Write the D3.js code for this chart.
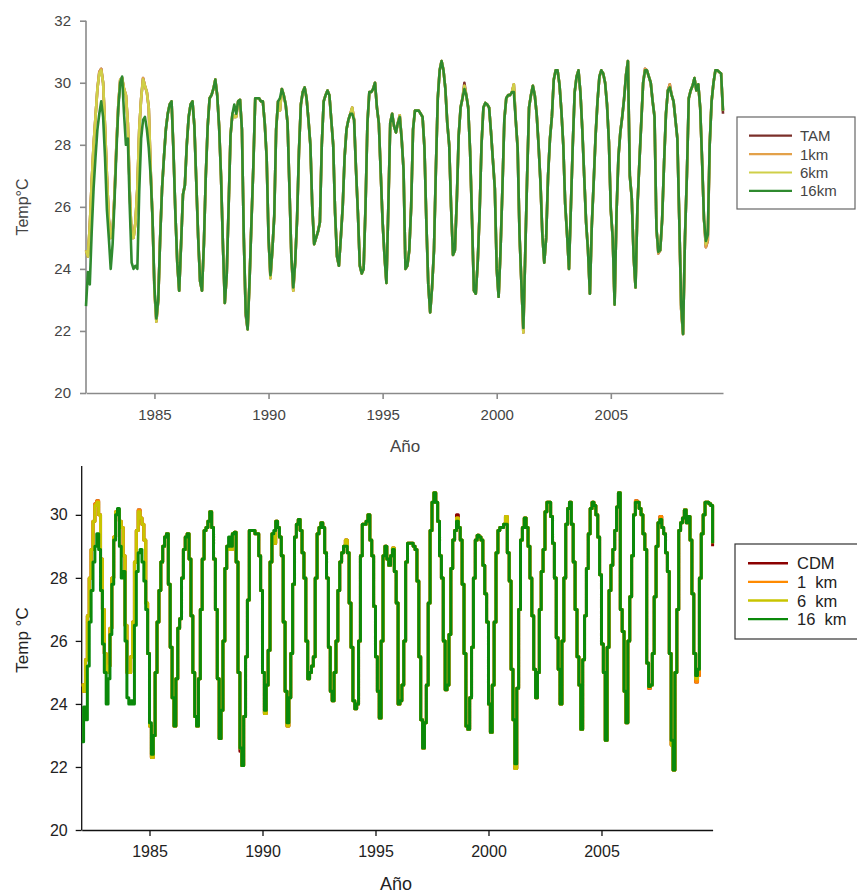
<!DOCTYPE html>
<html>
<head>
<meta charset="utf-8">
<script src="https://cdn.jsdelivr.net/npm/d3@7"></script>
<style>
  body { margin: 0; background: #fff; }
  svg { display: block; font-family: "Liberation Sans", Arial, sans-serif; }
</style>
</head>
<body>
<svg id="chart" width="857" height="894"></svg>
<script>
// monthly series, Jan 1982 .. Dec 2009 (one row per year)
const firstYear = 1982;
const yearTicks = [1985, 1990, 1995, 2000, 2005];
const topYTicks = [20, 22, 24, 26, 28, 30, 32];
const bottomYTicks = [20, 22, 24, 26, 28, 30];
const topNames = ["TAM", "1km", "6km", "16km"];
const bottomNames = ["CDM", "1  km", "6  km", "16  km"];

const km16 = [
  22.8, 23.9, 23.5, 25.2, 26.6, 27.6, 28.5, 29.0, 29.4, 28.9, 27.6, 25.9, // 1982
  25.0, 24.0, 24.8, 26.2, 27.8, 29.2, 30.0, 30.2, 29.0, 28.0, 28.2, 26.0, // 1983
  24.2, 24.0, 24.1, 24.0, 26.5, 28.2, 28.8, 28.9, 28.5, 27.9, 27.0, 25.6, // 1984
  23.4, 22.4, 23.0, 25.0, 26.6, 27.6, 28.5, 29.0, 29.3, 29.4, 27.8, 25.8, // 1985
  24.2, 23.3, 24.8, 26.4, 26.7, 28.0, 28.9, 29.3, 29.4, 28.6, 26.8, 25.0, // 1986
  23.6, 23.3, 24.8, 27.0, 28.6, 29.5, 29.6, 29.8, 30.1, 29.6, 28.6, 27.0, // 1987
  24.8, 22.9, 23.8, 26.0, 28.3, 29.0, 29.3, 29.0, 29.4, 29.45, 28.5, 25.0, // 1988
  22.6, 22.05, 23.6, 25.5, 27.3, 29.5, 29.5, 29.5, 29.4, 29.4, 28.7, 27.6, // 1989
  25.0, 23.8, 24.6, 25.7, 28.5, 29.4, 29.5, 29.8, 29.6, 29.3, 28.7, 26.6, // 1990
  24.4, 23.4, 24.2, 25.6, 27.8, 29.3, 29.7, 29.85, 29.5, 28.8, 28.0, 26.0, // 1991
  24.8, 25.0, 25.2, 25.5, 28.0, 29.4, 29.6, 29.75, 29.6, 28.8, 28.0, 25.8, // 1992
  24.4, 24.1, 25.0, 26.0, 27.6, 28.5, 28.8, 29.0, 29.0, 28.8, 27.2, 25.8, // 1993
  24.1, 23.85, 24.0, 26.0, 28.7, 29.7, 29.7, 29.8, 30.0, 29.2, 28.7, 27.1, // 1994
  25.5, 24.4, 23.55, 26.0, 28.7, 29.0, 28.6, 28.4, 28.7, 28.9, 28.2, 27.2, // 1995
  24.0, 24.1, 24.6, 26.0, 28.5, 29.1, 29.1, 29.1, 29.0, 28.9, 27.9, 25.5, // 1996
  23.5, 22.6, 23.4, 24.6, 27.2, 29.5, 30.4, 30.7, 30.4, 29.8, 28.7, 28.0, // 1997
  26.0, 24.45, 24.6, 26.2, 28.3, 29.2, 29.5, 29.8, 29.6, 29.2, 27.8, 25.6, // 1998
  23.3, 23.2, 24.2, 25.8, 28.0, 29.2, 29.35, 29.3, 29.2, 28.4, 27.5, 26.6, // 1999
  24.0, 23.1, 24.6, 26.6, 28.8, 29.5, 29.6, 29.6, 29.7, 29.7, 28.8, 27.9, // 2000
  25.1, 23.5, 22.1, 24.5, 27.0, 29.2, 29.6, 29.9, 29.6, 29.0, 28.0, 26.8, // 2001
  25.1, 24.2, 25.0, 27.0, 28.2, 28.9, 30.1, 30.4, 30.4, 29.95, 29.1, 28.0, // 2002
  26.1, 25.1, 24.0, 26.0, 28.0, 29.7, 30.2, 30.4, 29.7, 28.5, 27.0, 25.5, // 2003
  24.6, 23.2, 25.4, 26.8, 28.3, 29.4, 30.2, 30.4, 30.3, 30.0, 29.3, 28.1, // 2004
  25.9, 25.0, 22.85, 25.8, 27.6, 28.4, 28.9, 29.5, 30.25, 30.7, 27.0, 26.3, // 2005
  24.4, 23.4, 26.0, 27.4, 28.7, 30.0, 30.4, 30.4, 30.2, 30.0, 29.4, 28.9, // 2006
  25.3, 24.55, 24.6, 25.6, 27.4, 29.0, 29.75, 29.85, 29.6, 29.4, 28.8, 28.2, // 2007
  25.6, 22.85, 21.9, 25.0, 27.0, 29.5, 29.75, 29.9, 30.15, 29.75, 29.95, 29.2, // 2008
  27.5, 25.6, 24.9, 25.1, 28.0, 29.4, 30.0, 30.4, 30.4, 30.35, 30.3, 29.1  // 2009
];

const km6 = [
  24.6, 24.4, 25.4, 26.8, 28.0, 28.9, 29.8, 30.3, 30.4, 30.0, 28.6, 27.0, // 1982
  25.6, 25.0, 25.2, 26.4, 28.0, 29.3, 30.1, 30.15, 29.8, 29.6, 28.7, 26.5, // 1983
  25.0, 25.0, 25.5, 26.6, 28.5, 29.5, 30.1, 29.9, 29.7, 29.2, 27.2, 25.6, // 1984
  23.3, 22.3, 23.0, 25.0, 26.6, 27.6, 28.5, 29.0, 29.3, 29.4, 27.8, 25.8, // 1985
  24.2, 23.3, 24.8, 26.4, 26.7, 28.0, 28.9, 29.3, 29.4, 28.6, 26.8, 25.0, // 1986
  23.6, 23.3, 24.8, 27.0, 28.6, 29.5, 29.6, 29.8, 30.1, 29.6, 28.6, 27.0, // 1987
  24.8, 22.9, 23.8, 26.0, 28.3, 29.0, 28.9, 28.9, 29.4, 29.45, 28.5, 25.0, // 1988
  22.6, 22.05, 23.6, 25.5, 27.3, 29.5, 29.5, 29.5, 29.4, 29.4, 28.7, 27.6, // 1989
  25.0, 23.7, 24.6, 25.7, 28.5, 29.4, 29.1, 29.8, 29.6, 29.3, 28.7, 26.6, // 1990
  24.4, 23.3, 24.2, 25.6, 27.8, 29.3, 29.7, 29.85, 29.5, 28.8, 28.0, 26.0, // 1991
  24.8, 25.0, 25.2, 25.5, 28.0, 29.4, 29.6, 29.75, 29.6, 28.8, 28.0, 25.8, // 1992
  24.4, 24.1, 25.0, 26.0, 27.6, 28.5, 28.8, 29.0, 29.2, 28.8, 27.2, 25.8, // 1993
  24.1, 23.85, 24.0, 26.0, 28.7, 29.7, 29.7, 29.8, 30.0, 29.2, 28.7, 27.1, // 1994
  25.5, 24.4, 23.55, 26.0, 28.7, 29.0, 28.6, 28.4, 28.7, 28.95, 28.2, 27.2, // 1995
  24.0, 24.1, 24.6, 26.0, 28.5, 29.1, 29.1, 29.1, 29.0, 28.9, 27.9, 25.5, // 1996
  23.5, 22.6, 23.4, 24.6, 27.2, 29.5, 30.4, 30.7, 30.4, 29.8, 28.7, 28.0, // 1997
  26.0, 24.45, 24.6, 26.2, 28.3, 29.2, 29.5, 29.9, 29.6, 29.2, 27.8, 25.6, // 1998
  23.3, 23.2, 24.2, 25.8, 28.0, 29.2, 29.35, 29.3, 29.2, 28.4, 27.5, 26.6, // 1999
  24.0, 23.1, 24.6, 26.6, 28.8, 29.5, 29.6, 29.6, 29.7, 29.95, 28.8, 27.9, // 2000
  25.1, 23.5, 21.95, 24.5, 27.0, 29.2, 29.6, 29.9, 29.6, 29.0, 28.0, 26.8, // 2001
  25.1, 24.2, 25.0, 27.0, 28.2, 28.9, 30.1, 30.4, 30.4, 29.95, 29.1, 28.0, // 2002
  26.1, 25.1, 24.0, 26.0, 28.0, 29.7, 30.2, 30.4, 29.7, 28.5, 27.0, 25.5, // 2003
  24.6, 23.2, 25.4, 26.8, 28.3, 29.4, 30.2, 30.4, 30.3, 30.0, 29.3, 28.1, // 2004
  25.9, 25.0, 22.85, 25.8, 27.6, 28.4, 28.9, 29.5, 30.25, 30.7, 27.0, 26.3, // 2005
  24.4, 23.4, 26.0, 27.4, 28.7, 30.0, 30.4, 30.4, 30.2, 30.0, 29.4, 28.9, // 2006
  25.3, 24.55, 24.6, 25.6, 27.4, 29.0, 29.75, 29.85, 29.6, 29.4, 28.8, 28.2, // 2007
  25.6, 22.7, 21.9, 25.0, 27.0, 29.5, 29.75, 29.9, 30.15, 29.75, 29.95, 29.2, // 2008
  27.5, 25.6, 24.8, 25.1, 28.0, 29.4, 30.0, 30.4, 30.4, 30.35, 30.3, 29.1  // 2009
];

const km1 = [
  24.6, 24.4, 25.4, 26.8, 28.0, 28.9, 29.8, 30.35, 30.45, 30.0, 28.6, 27.0, // 1982
  25.6, 25.0, 25.2, 26.4, 28.0, 29.3, 30.1, 30.15, 29.8, 29.6, 28.7, 26.5, // 1983
  25.0, 25.0, 25.5, 26.6, 28.5, 29.5, 30.15, 29.9, 29.7, 29.2, 27.2, 25.6, // 1984
  23.3, 22.3, 23.0, 25.0, 26.6, 27.6, 28.5, 29.0, 29.3, 29.4, 27.8, 25.8, // 1985
  24.2, 23.3, 24.8, 26.4, 26.7, 28.0, 28.9, 29.3, 29.4, 28.6, 26.8, 25.0, // 1986
  23.6, 23.3, 24.8, 27.0, 28.6, 29.5, 29.6, 29.8, 30.1, 29.6, 28.6, 27.0, // 1987
  24.8, 22.9, 23.8, 26.0, 28.3, 29.0, 28.9, 28.9, 29.4, 29.45, 28.5, 25.0, // 1988
  22.6, 22.05, 23.6, 25.5, 27.3, 29.5, 29.5, 29.5, 29.4, 29.4, 28.7, 27.6, // 1989
  25.0, 23.7, 24.6, 25.7, 28.5, 29.4, 29.1, 29.8, 29.6, 29.3, 28.7, 26.6, // 1990
  24.4, 23.3, 24.2, 25.6, 27.8, 29.3, 29.7, 29.85, 29.5, 28.8, 28.0, 26.0, // 1991
  24.8, 25.0, 25.2, 25.5, 28.0, 29.4, 29.6, 29.75, 29.6, 28.8, 28.0, 25.8, // 1992
  24.4, 24.1, 25.0, 26.0, 27.6, 28.5, 28.8, 29.0, 29.2, 28.8, 27.2, 25.8, // 1993
  24.1, 23.85, 24.0, 26.0, 28.7, 29.7, 29.7, 29.8, 30.0, 29.2, 28.7, 27.1, // 1994
  25.5, 24.4, 23.55, 26.0, 28.7, 29.0, 28.6, 28.4, 28.7, 28.95, 28.2, 27.2, // 1995
  24.0, 24.1, 24.6, 26.0, 28.5, 29.1, 29.1, 29.1, 29.0, 28.9, 27.9, 25.5, // 1996
  23.5, 22.6, 23.4, 24.6, 27.2, 29.5, 30.4, 30.7, 30.4, 29.8, 28.7, 28.0, // 1997
  26.0, 24.45, 24.6, 26.2, 28.3, 29.2, 29.5, 29.9, 29.6, 29.2, 27.8, 25.6, // 1998
  23.3, 23.2, 24.2, 25.8, 28.0, 29.2, 29.35, 29.3, 29.2, 28.4, 27.5, 26.6, // 1999
  24.0, 23.1, 24.6, 26.6, 28.8, 29.5, 29.6, 29.6, 29.7, 29.95, 28.8, 27.9, // 2000
  25.1, 23.5, 21.95, 24.5, 27.0, 29.2, 29.6, 29.9, 29.6, 29.0, 28.0, 26.8, // 2001
  25.1, 24.2, 25.0, 27.0, 28.2, 28.9, 30.1, 30.4, 30.4, 29.95, 29.1, 28.0, // 2002
  26.1, 25.1, 24.0, 26.0, 28.0, 29.7, 30.2, 30.4, 29.7, 28.5, 27.0, 25.5, // 2003
  24.6, 23.2, 25.4, 26.8, 28.3, 29.4, 30.2, 30.4, 30.3, 30.0, 29.3, 28.1, // 2004
  25.9, 25.0, 22.85, 25.8, 27.6, 28.4, 28.9, 29.5, 30.25, 30.7, 27.0, 26.3, // 2005
  24.4, 23.4, 26.0, 27.4, 28.7, 30.0, 30.45, 30.4, 30.2, 30.0, 29.4, 28.9, // 2006
  25.3, 24.5, 24.6, 25.6, 27.4, 29.0, 29.75, 29.95, 29.6, 29.4, 28.8, 28.2, // 2007
  25.6, 22.7, 21.9, 25.0, 27.0, 29.5, 29.75, 29.9, 30.15, 29.75, 29.95, 29.2, // 2008
  27.5, 25.6, 24.7, 24.9, 28.0, 29.4, 30.0, 30.4, 30.4, 30.35, 30.3, 29.1  // 2009
];

const tam = [
  24.6, 24.4, 25.4, 26.8, 28.0, 28.9, 29.8, 30.35, 30.45, 30.0, 28.6, 27.0, // 1982
  25.6, 25.0, 25.2, 26.4, 28.0, 29.3, 30.1, 30.15, 29.8, 29.6, 28.7, 26.5, // 1983
  25.0, 25.0, 25.5, 26.6, 28.5, 29.5, 30.15, 29.9, 29.7, 29.2, 27.2, 25.6, // 1984
  23.3, 22.3, 23.0, 25.0, 26.6, 27.6, 28.5, 29.0, 29.3, 29.4, 27.8, 25.8, // 1985
  24.2, 23.3, 24.8, 26.4, 26.7, 28.0, 28.9, 29.3, 29.4, 28.6, 26.8, 25.0, // 1986
  23.6, 23.3, 24.8, 27.0, 28.6, 29.5, 29.6, 29.8, 30.1, 29.6, 28.6, 27.0, // 1987
  24.8, 22.9, 23.8, 26.0, 28.3, 29.0, 28.9, 28.9, 29.4, 29.45, 28.5, 25.0, // 1988
  22.5, 22.05, 23.6, 25.5, 27.3, 29.5, 29.5, 29.5, 29.4, 29.4, 28.7, 27.6, // 1989
  25.0, 23.7, 24.6, 25.7, 28.5, 29.4, 29.1, 29.8, 29.6, 29.3, 28.7, 26.6, // 1990
  24.4, 23.3, 24.2, 25.6, 27.8, 29.3, 29.7, 29.85, 29.5, 28.8, 28.0, 26.0, // 1991
  24.8, 25.0, 25.2, 25.5, 28.0, 29.4, 29.6, 29.75, 29.6, 28.8, 28.0, 25.8, // 1992
  24.4, 24.1, 25.0, 26.0, 27.6, 28.5, 28.8, 29.0, 29.2, 28.8, 27.2, 25.8, // 1993
  24.1, 23.85, 24.0, 26.0, 28.7, 29.7, 29.7, 29.8, 30.0, 29.2, 28.7, 27.1, // 1994
  25.5, 24.4, 23.55, 26.0, 28.7, 29.0, 28.6, 28.4, 28.7, 28.95, 28.2, 27.2, // 1995
  24.0, 24.1, 24.6, 26.0, 28.5, 29.1, 29.1, 29.1, 29.0, 28.9, 27.9, 25.5, // 1996
  23.5, 22.6, 23.4, 24.6, 27.2, 29.5, 30.4, 30.7, 30.4, 29.8, 28.7, 28.0, // 1997
  26.0, 24.45, 24.6, 26.2, 28.3, 29.2, 29.5, 30.0, 29.6, 29.2, 27.8, 25.6, // 1998
  23.3, 23.2, 24.2, 25.8, 28.0, 29.2, 29.35, 29.3, 29.2, 28.4, 27.5, 26.6, // 1999
  24.0, 23.1, 24.6, 26.6, 28.8, 29.5, 29.6, 29.6, 29.7, 29.95, 28.8, 27.9, // 2000
  25.1, 23.5, 21.95, 24.5, 27.0, 29.2, 29.6, 29.9, 29.6, 29.0, 28.0, 26.8, // 2001
  25.1, 24.2, 25.0, 27.0, 28.2, 28.9, 30.1, 30.4, 30.4, 29.95, 29.1, 28.0, // 2002
  26.1, 25.1, 24.0, 26.0, 28.0, 29.7, 30.2, 30.4, 29.7, 28.5, 27.0, 25.5, // 2003
  24.6, 23.2, 25.4, 26.8, 28.3, 29.4, 30.2, 30.4, 30.3, 30.0, 29.3, 28.1, // 2004
  25.9, 25.0, 22.85, 25.8, 27.6, 28.4, 28.9, 29.5, 30.25, 30.7, 27.0, 26.3, // 2005
  24.4, 23.4, 26.0, 27.4, 28.7, 30.0, 30.45, 30.4, 30.2, 30.0, 29.4, 28.9, // 2006
  25.3, 24.5, 24.6, 25.6, 27.4, 29.0, 29.75, 29.95, 29.6, 29.4, 28.8, 28.2, // 2007
  25.6, 22.7, 21.9, 25.0, 27.0, 29.5, 29.75, 29.9, 30.15, 29.75, 29.95, 29.2, // 2008
  27.5, 25.6, 24.7, 24.9, 28.0, 29.4, 30.0, 30.4, 30.4, 30.35, 30.3, 29.0  // 2009
];

var svg = d3.select("#chart");
var seriesData = [tam, km1, km6, km16];

function drawPanel(p) {
  var x = d3.scaleLinear()
    .domain([firstYear, firstYear + (km16.length - 1) / 12])
    .range([p.left, p.right]);
  var y = d3.scaleLinear().domain(p.yDomain).range([p.bottom, p.top]);

  var g = svg.append("g");

  // x axis
  var xAxis = g.append("g")
    .attr("transform", "translate(0," + p.bottom + ")")
    .call(d3.axisBottom(x).tickValues(yearTicks).tickFormat(d3.format("d"))
      .tickSize(6).tickSizeOuter(0).tickPadding(10));
  // y axis
  var yAxis = g.append("g")
    .attr("transform", "translate(" + p.left + ",0)")
    .call(d3.axisLeft(y).tickValues(p.yTicks).tickSize(6).tickSizeOuter(0)
      .tickPadding(p.yPad));

  [xAxis, yAxis].forEach(function (a) {
    a.select(".domain").attr("stroke", p.axisColor).attr("stroke-width", p.axisWidth);
    a.selectAll(".tick line").attr("stroke", p.axisColor).attr("stroke-width", p.axisWidth);
    a.selectAll(".tick text")
      .attr("fill", p.textColor)
      .style("font-size", p.tickFont + "px")
      .style("font-family", "'Liberation Sans', Arial, sans-serif");
  });
  // extend y axis line to the top of the plot area
  yAxis.select(".domain").attr("d", "M0," + p.bottom + "V" + p.axisTop);

  var line = d3.line()
    .x(function (d, i) { return x(firstYear + i / 12); })
    .y(function (d) { return y(d); })
    .curve(p.curve);

  seriesData.forEach(function (s, k) {
    g.append("path")
      .datum(s)
      .attr("fill", "none")
      .attr("stroke", p.colors[k])
      .attr("stroke-width", p.lineWidth)
      .attr("stroke-linejoin", "round")
      .attr("d", line);
  });

  // axis titles
  g.append("text")
    .attr("transform", "translate(" + p.yTitleX + "," + p.yTitleY + ") rotate(-90)")
    .attr("text-anchor", "middle")
    .attr("dominant-baseline", "central")
    .attr("fill", p.textColor)
    .style("font-size", p.titleFont + "px")
    .text(p.yTitle);
  g.append("text")
    .attr("x", p.xTitleX).attr("y", p.xTitleY)
    .attr("text-anchor", "middle")
    .attr("dominant-baseline", "central")
    .attr("fill", p.textColor)
    .style("font-size", (p.titleFont + 1) + "px")
    .text("Año");

  // legend
  var lg = g.append("g");
  lg.append("rect")
    .attr("x", p.legend.x).attr("y", p.legend.y)
    .attr("width", p.legend.w).attr("height", p.legend.h)
    .attr("fill", "#fff")
    .attr("stroke", p.legend.stroke).attr("stroke-width", 1.2);
  p.names.forEach(function (n, k) {
    var yy = p.legend.rowY + k * p.legend.rowH;
    lg.append("line")
      .attr("x1", p.legend.lx1).attr("x2", p.legend.lx2)
      .attr("y1", yy).attr("y2", yy)
      .attr("stroke", p.colors[k]).attr("stroke-width", p.legend.lw);
    lg.append("text")
      .attr("x", p.legend.tx).attr("y", yy)
      .attr("dominant-baseline", "central")
      .attr("fill", p.textColor)
      .style("font-size", p.legend.font + "px")
      .style("white-space", "pre")
      .text(n);
  });
}

// top panel: smooth lines
drawPanel({
  left: 86, right: 723, top: 20.7, bottom: 393, axisTop: 20.7,
  yDomain: [20, 32], yTicks: topYTicks, yPad: 9,
  axisColor: "#8a8a8a", axisWidth: 1.6, textColor: "#444",
  tickFont: 15, titleFont: 16, lineWidth: 2.6,
  curve: d3.curveLinear,
  colors: ["#7b2f2a", "#e3a14a", "#cfcf48", "#2f8a2f"],
  names: topNames, yTitle: "Temp°C",
  yTitleX: 22, yTitleY: 207, xTitleX: 405, xTitleY: 446,
  legend: { x: 737, y: 117, w: 118, h: 92, stroke: "#666",
    rowY: 135.7, rowH: 18.4, lx1: 749, lx2: 792, tx: 800, lw: 2.2, font: 15 }
});

// bottom panel: stepped lines
drawPanel({
  left: 81.7, right: 712.6, top: 466, bottom: 830, axisTop: 466,
  yDomain: [20, 31.55], yTicks: bottomYTicks, yPad: 8,
  axisColor: "#111", axisWidth: 1.3, textColor: "#222",
  tickFont: 16, titleFont: 17, lineWidth: 3,
  curve: d3.curveStepAfter,
  colors: ["#8b0000", "#ff8a00", "#c8c400", "#0a890a"],
  names: bottomNames, yTitle: "Temp °C",
  yTitleX: 22, yTitleY: 640, xTitleX: 396, xTitleY: 884,
  legend: { x: 735, y: 544, w: 130, h: 95, stroke: "#333",
    rowY: 563.3, rowH: 18.6, lx1: 748, lx2: 788, tx: 797, lw: 2.4, font: 16.5 }
});
</script>
</body>
</html>
